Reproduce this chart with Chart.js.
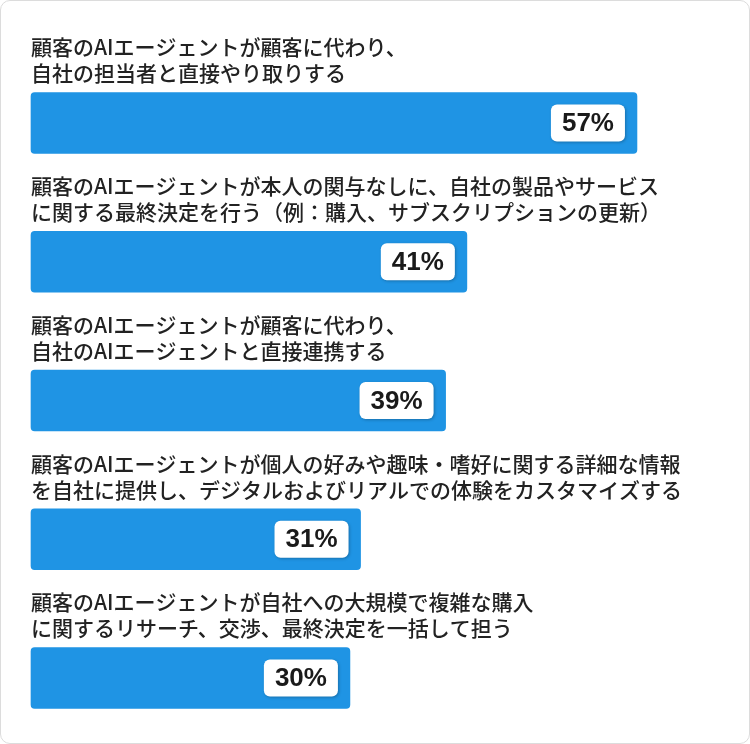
<!DOCTYPE html>
<html lang="ja">
<head>
<meta charset="utf-8">
<script src="https://cdn.jsdelivr.net/npm/chart.js@4/dist/chart.umd.min.js"></script>
<style>
  html, body { margin: 0; padding: 0; background: #fff; }
  #box {
    position: relative;
    width: 750px;
    height: 744px;
    box-sizing: border-box;
    border: 1px solid #dcdcdc;
    border-radius: 10px;
    overflow: hidden;
  }
  #chart { position: absolute; left: -1px; top: -1px; }
</style>
</head>
<body>
<div id="box">
  <canvas id="chart" width="750" height="744"></canvas>
</div>
<script>
const categorias = [
  ["顧客のAIエージェントが顧客に代わり、", "自社の担当者と直接やり取りする"],
  ["顧客のAIエージェントが本人の関与なしに、自社の製品やサービス", "に関する最終決定を行う（例：購入、サブスクリプションの更新）"],
  ["顧客のAIエージェントが顧客に代わり、", "自社のAIエージェントと直接連携する"],
  ["顧客のAIエージェントが個人の好みや趣味・嗜好に関する詳細な情報", "を自社に提供し、デジタルおよびリアルでの体験をカスタマイズする"],
  ["顧客のAIエージェントが自社への大規模で複雑な購入", "に関するリサーチ、交渉、最終決定を一括して担う"]
];
const valores = [57, 41, 39, 31, 30];

const corBarra = "#1f94e4";

// rotulos de texto acima de cada barra
const rotulosPlugin = {
  id: "rotulos",
  afterDatasetsDraw(chart) {
    const ctx = chart.ctx;
    const meta = chart.getDatasetMeta(0);
    ctx.save();
    meta.data.forEach((bar, i) => {
      const topo = bar.y - bar.height / 2;
      ctx.fillStyle = "#222";
      ctx.font = "500 21px 'Noto Sans CJK JP'";
      ctx.textAlign = "left";
      ctx.textBaseline = "middle";
      ctx.fillText(categorias[i][0], 31, topo - 45);
      ctx.fillText(categorias[i][1], 31, topo - 19);

      // caixa branca com valor
      const texto = valores[i] + "%";
      ctx.font = "bold 26px 'Liberation Sans', Arial, sans-serif";
      const w = ctx.measureText(texto).width + 22;
      const h = 37;
      const x = bar.x - 12 - w;
      const y = bar.y - h / 2;
      ctx.shadowColor = "rgba(0,0,0,0.25)";
      ctx.shadowBlur = 3;
      ctx.shadowOffsetX = 1;
      ctx.shadowOffsetY = 1;
      ctx.fillStyle = "#fff";
      ctx.beginPath();
      ctx.roundRect(x, y, w, h, 6);
      ctx.fill();
      ctx.shadowColor = "transparent";
      ctx.fillStyle = "#1a1a1a";
      ctx.textAlign = "center";
      ctx.fillText(texto, x + w / 2, bar.y + 1);
    });
    ctx.restore();
  }
};

new Chart(document.getElementById("chart"), {
  type: "bar",
  data: {
    labels: categorias.map(c => c.join("")),
    datasets: [{
      data: valores,
      backgroundColor: corBarra,
      borderRadius: 4,
      borderSkipped: false,
      barThickness: 61,
      clip: false
    }]
  },
  options: {
    indexAxis: "y",
    responsive: false,
    animation: false,
    layout: { padding: { left: 31, right: 28, top: 123, bottom: 66 } },
    scales: {
      x: { display: false, min: 0, max: 65 },
      y: { display: false, offset: false }
    },
    plugins: {
      legend: { display: false },
      tooltip: { enabled: false }
    }
  },
  plugins: [rotulosPlugin]
});
</script>
</body>
</html>
